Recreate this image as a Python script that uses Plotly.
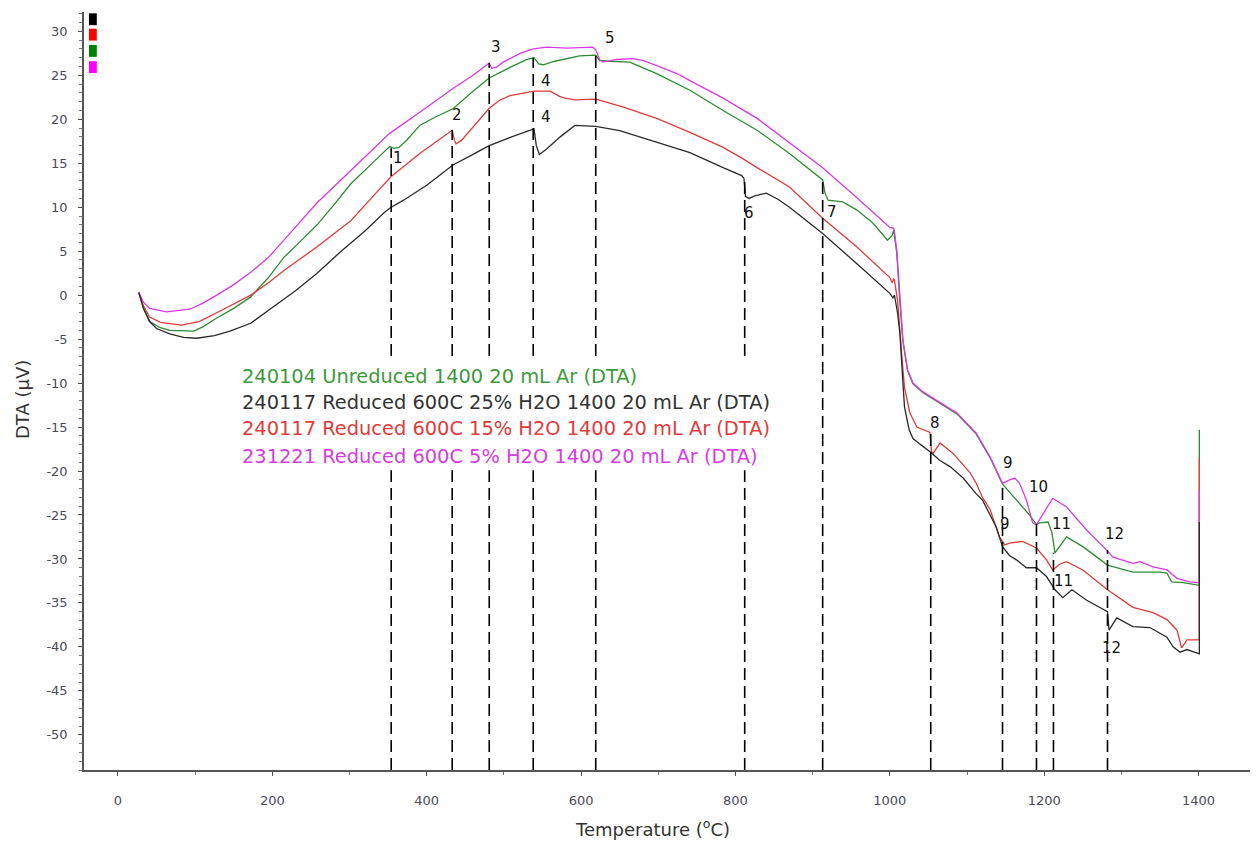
import plotly.graph_objects as go

# ---------------- data ----------------
black_T = [27, 33, 41, 50, 67, 85, 102, 125, 145, 172, 200, 230, 258, 288, 320, 345, 354, 360, 370, 400,
           434, 460, 481, 510, 536, 539, 542, 546, 555, 573, 592, 619, 650, 698, 741, 784, 808, 811, 813,
           818, 825, 840, 855, 870, 913, 957, 1000, 1004, 1006, 1010, 1013, 1017, 1019, 1025, 1030, 1040,
           1052, 1065, 1078, 1095, 1112, 1120, 1138, 1146, 1155, 1164, 1177, 1190, 1203, 1214, 1224, 1236,
           1255, 1282, 1284, 1294, 1315, 1337, 1359, 1367, 1376, 1385, 1401, 1401]
black_V = [0.3, -1.5, -3.0, -3.8, -4.4, -4.8, -4.9, -4.6, -4.1, -3.2, -1.4, 0.5, 2.5, 4.9, 7.3, 9.4, 10.0, 10.3,
           10.8, 12.5, 14.8, 16.0, 17.0, 18.0, 18.8, 18.9, 17.0, 16.0, 16.6, 18.0, 19.3, 19.2, 18.7, 17.4, 16.2,
           14.5, 13.6, 13.3, 11.2, 11.0, 11.3, 11.6, 10.9, 10.0, 7.0, 3.6, 0.2, -0.3, 0.0, -2.0, -4.3, -10.0,
           -12.7, -15.3, -16.3, -17.0, -17.8, -18.8, -19.5, -20.8, -22.6, -23.3, -26.4, -28.6, -29.6, -30.1,
           -31.0, -31.0, -32.0, -33.5, -34.4, -33.5, -34.7, -36.0, -38.1, -36.7, -37.7, -37.8, -38.9, -40.0,
           -40.6, -40.3, -40.8, -25.8]

red_T = [27, 33, 41, 55, 82, 105, 128, 150, 172, 195, 215, 258, 302, 330, 354, 391, 420, 433, 436, 438, 445,
         456, 470, 481, 495, 508, 539, 560, 572, 579, 592, 619, 654, 698, 741, 784, 810, 819, 828, 870, 913,
         957, 1000, 1003, 1005, 1006, 1010, 1015, 1019, 1026, 1035, 1052, 1054, 1056, 1065, 1082, 1104, 1112,
         1120, 1130, 1142, 1149, 1155, 1172, 1190, 1203, 1211, 1220, 1229, 1250, 1282, 1315, 1341, 1359,
         1372, 1378, 1385, 1401, 1401]
red_V = [0.3, -1.2, -2.5, -3.1, -3.4, -3.0, -2.0, -1.0, 0.0, 1.4, 2.8, 5.5, 8.5, 11.2, 13.5, 16.1, 17.9, 18.75,
         17.6, 17.2, 17.6, 18.75, 20.1, 21.25, 22.2, 22.7, 23.2, 23.2, 22.6, 22.4, 22.2, 22.3, 21.4, 20.1, 18.5,
         16.8, 15.5, 15.0, 14.5, 12.3, 8.75, 5.5, 2.0, 1.4, 1.9, 1.7, -0.6, -6.3, -10.5, -13.4, -15.0, -15.6,
         -17.8, -18.0, -16.8, -18.0, -20.2, -21.4, -23.0, -24.4, -27.5, -28.4, -28.2, -28.0, -28.75, -30.1,
         -31.25, -30.6, -30.3, -31.25, -33.5, -35.5, -36.1, -36.9, -38.1, -40.1, -39.2, -39.2, -18.5]

green_T = [27, 33, 41, 55, 67, 98, 110, 128, 150, 172, 195, 215, 235, 258, 280, 302, 333, 352, 358, 364, 375,
           391, 410, 434, 460, 481, 508, 530, 539, 545, 551, 566, 598, 619, 624, 637, 663, 698, 741, 784, 828,
           870, 913, 916, 920, 939, 957, 978, 997, 1003, 1005, 1007, 1009, 1013, 1017, 1023, 1030, 1043, 1065,
           1087, 1112, 1130, 1146, 1164, 1181, 1190, 1194, 1205, 1210, 1214, 1220, 1229, 1250, 1272, 1282,
           1315, 1350, 1359, 1365, 1380, 1399, 1401, 1401]
green_V = [0.3, -1.5, -3.0, -3.7, -4.0, -4.1, -3.6, -2.6, -1.5, -0.2, 2.0, 4.3, 6.0, 8.0, 10.3, 12.7, 15.3, 16.9,
           16.7, 16.8, 17.7, 19.3, 20.2, 21.2, 23.2, 24.7, 25.9, 26.8, 27.0, 26.3, 26.2, 26.6, 27.2, 27.3, 26.7,
           26.6, 26.5, 25.2, 23.3, 21.0, 18.75, 16.1, 13.1, 11.6, 10.8, 10.6, 9.7, 8.2, 6.25, 6.8, 7.4, 6.0, 4.8,
           -0.8, -5.3, -8.6, -10.1, -11.1, -12.3, -13.5, -15.8, -18.5, -21.5, -23.3, -25.0, -26.1, -25.9, -25.8,
           -27.0, -29.3, -28.6, -27.5, -28.6, -30.1, -30.7, -31.5, -31.5, -31.6, -32.6, -32.7, -33.0, -33.0, -15.3]

magenta_T = [27, 33, 41, 63, 93, 110, 128, 150, 172, 195, 215, 258, 302, 330, 352, 391, 434, 460, 481, 484, 490,
             499, 521, 538, 556, 582, 615, 619, 624, 628, 646, 667, 680, 698, 724, 741, 784, 828, 870, 913, 957,
             1000, 1005, 1006, 1009, 1013, 1017, 1023, 1030, 1043, 1065, 1087, 1112, 1130, 1146, 1155, 1162,
             1168, 1177, 1185, 1190, 1199, 1211, 1229, 1255, 1281, 1289, 1315, 1324, 1341, 1359, 1372, 1389,
             1401, 1401]
magenta_V = [0.3, -0.8, -1.5, -1.9, -1.6, -0.9, 0.0, 1.2, 2.6, 4.3, 6.25, 10.5, 14.2, 16.6, 18.4, 20.8, 23.5,
             25.0, 26.4, 25.8, 25.9, 26.5, 27.5, 28.0, 28.2, 28.1, 28.2, 27.9, 26.8, 26.5, 26.8, 26.9, 26.7, 26.1,
             25.2, 24.4, 22.4, 20.1, 17.3, 14.5, 11.1, 7.7, 7.6, 7.2, 5.1, -0.6, -5.1, -8.5, -10.0, -11.0, -12.2,
             -13.4, -15.7, -18.4, -21.4, -21.0, -20.8, -21.4, -23.3, -25.9, -26.1, -24.8, -23.1, -24.1, -26.7,
             -29.0, -29.8, -30.5, -30.3, -30.9, -31.25, -32.2, -32.6, -32.7, -22.2]

# event markers (dashed lines): temperature and top of line
event_T = [354, 433, 481, 538, 619, 812, 913, 1053, 1146, 1190, 1212, 1282]
event_top = [16.7, 18.75, 26.4, 27.0, 27.8, 13.1, 13.3, -15.3, -21.8, -25.9, -29.3, -29.0]

# event labels
label_text = ["1", "2", "3", "4", "4", "5", "6", "7", "8", "9", "9", "10", "11", "11", "12", "12"]
label_T = [363, 439, 490, 554, 554, 637, 817, 925, 1058, 1153, 1149, 1193, 1223, 1225, 1291, 1287]
label_V = [15.6, 20.5, 28.2, 24.4, 20.3, 29.2, 9.3, 9.4, -14.5, -19.1, -26.0, -21.8, -26.0, -32.5, -27.2, -40.1]

series_names = ["240104 Unreduced 1400 20 mL Ar (DTA)",
                "240117 Reduced 600C 25% H2O 1400 20 mL Ar (DTA)",
                "240117 Reduced 600C 15% H2O 1400 20 mL Ar (DTA)",
                "231221 Reduced 600C 5% H2O 1400 20 mL Ar (DTA)"]
name_colors = ["#3c9a3c", "#333333", "#e23b3b", "#d23ee0"]

y_ticks = [-50, -45, -40, -35, -30, -25, -20, -15, -10, -5, 0, 5, 10, 15, 20, 25, 30]
y_ticktext = [str(v) for v in y_ticks]
x_ticks = [0, 200, 400, 600, 800, 1000, 1200, 1400]

# ---------------- figure ----------------
fig = go.Figure()
line_w = 1.3
fig.add_trace(go.Scatter(x=green_T, y=green_V, mode="lines", line=dict(color="#2e8b34", width=line_w)))
fig.add_trace(go.Scatter(x=red_T, y=red_V, mode="lines", line=dict(color="#e03a3a", width=line_w)))
fig.add_trace(go.Scatter(x=magenta_T, y=magenta_V, mode="lines", line=dict(color="#d83ae2", width=line_w)))
fig.add_trace(go.Scatter(x=black_T, y=black_V, mode="lines", line=dict(color="#2a2a2a", width=line_w)))

Y_MIN, Y_MAX = -54, 32.2
X_MIN, X_MAX = -44, 1477

shapes = []
for t, top in zip(event_T, event_top):
    shapes.append(dict(type="line", x0=t, x1=t, y0=Y_MIN, y1=top, xref="x", yref="y",
                       line=dict(color="black", width=1.6, dash="12px,6px"), layer="above"))
# white box behind the series names
shapes.append(dict(type="rect", x0=155, x1=870, y0=-19.9, y1=-7.6, xref="x", yref="y",
                   fillcolor="white", line=dict(width=0), layer="above"))
# colour swatches at top-left
sw_colors = ["#000000", "#ff0000", "#008000", "#ff00ff"]
sw_top = [32.05, 30.3, 28.45, 26.6]
for c, yt in zip(sw_colors, sw_top):
    shapes.append(dict(type="rect", x0=-37.6, x1=-27.4, y0=yt - 1.35, y1=yt, xref="x", yref="y",
                       fillcolor=c, line=dict(width=0), layer="above"))

annotations = []
for txt, t, v in zip(label_text, label_T, label_V):
    annotations.append(dict(x=t, y=v, text=txt, showarrow=False, xref="x", yref="y",
                            xanchor="center", yanchor="middle",
                            font=dict(family="DejaVu Sans", size=15, color="#111111")))
name_y = [-9.2, -12.2, -15.2, -18.4]
for nm, col, yy in zip(series_names, name_colors, name_y):
    annotations.append(dict(x=158, y=yy, text=nm, showarrow=False, xref="x", yref="y",
                            xanchor="left", yanchor="middle",
                            font=dict(family="DejaVu Sans", size=19.4, color=col)))

# page is offset by the default 8px body margin
OFF = 8
W, H = 1258 - OFF, 843 - OFF
L, R, T, B = 84 - OFF, 0, 12 - OFF, 73
pw, ph = W - L - R, H - T - B


def paper_x(px):
    return (px - OFF - L) / pw


def paper_y(py):
    return 1 - (py - OFF - T) / ph


annotations.append(dict(x=paper_x(22), y=paper_y(400), xref="paper", yref="paper", text="DTA (µV)",
                        showarrow=False, textangle=-90, xanchor="center", yanchor="middle",
                        font=dict(family="DejaVu Sans", size=18, color="#333333")))
annotations.append(dict(x=paper_x(652), y=paper_y(828), xref="paper", yref="paper",
                        text="Temperature (<sup>o</sup>C)", showarrow=False,
                        xanchor="center", yanchor="middle",
                        font=dict(family="DejaVu Sans", size=18, color="#333333")))

fig.update_layout(
    width=W, height=H,
    margin=dict(l=L, r=R, t=T, b=B, autoexpand=False),
    paper_bgcolor="white", plot_bgcolor="white",
    showlegend=False,
    shapes=shapes,
    annotations=annotations,
)
fig.update_xaxes(range=[X_MIN, X_MAX], showgrid=False, zeroline=False, automargin=False,
                 showline=True, linecolor="#555555", linewidth=1.5,
                 tickmode="array", tickvals=x_ticks, ticks="outside", ticklen=4, tickcolor="#555555",
                 ticklabelstandoff=14,
                 tickfont=dict(family="DejaVu Sans", size=13, color="#4a4a55"),
                 minor=dict(dtick=100, tick0=0, ticks="outside", ticklen=3, tickcolor="#777777"))
fig.update_yaxes(range=[Y_MIN, Y_MAX], showgrid=False, zeroline=False, automargin=False,
                 showline=True, linecolor="#555555", linewidth=1.5,
                 tickmode="array", tickvals=y_ticks, ticktext=y_ticktext,
                 ticks="outside", ticklen=4, tickcolor="#555555",
                 ticklabelstandoff=8,
                 tickfont=dict(family="DejaVu Sans", size=13, color="#4a4a55"),
                 minor=dict(dtick=1, tick0=0, ticks="outside", ticklen=3, tickcolor="#777777"))

fig.write_html("out.html")
